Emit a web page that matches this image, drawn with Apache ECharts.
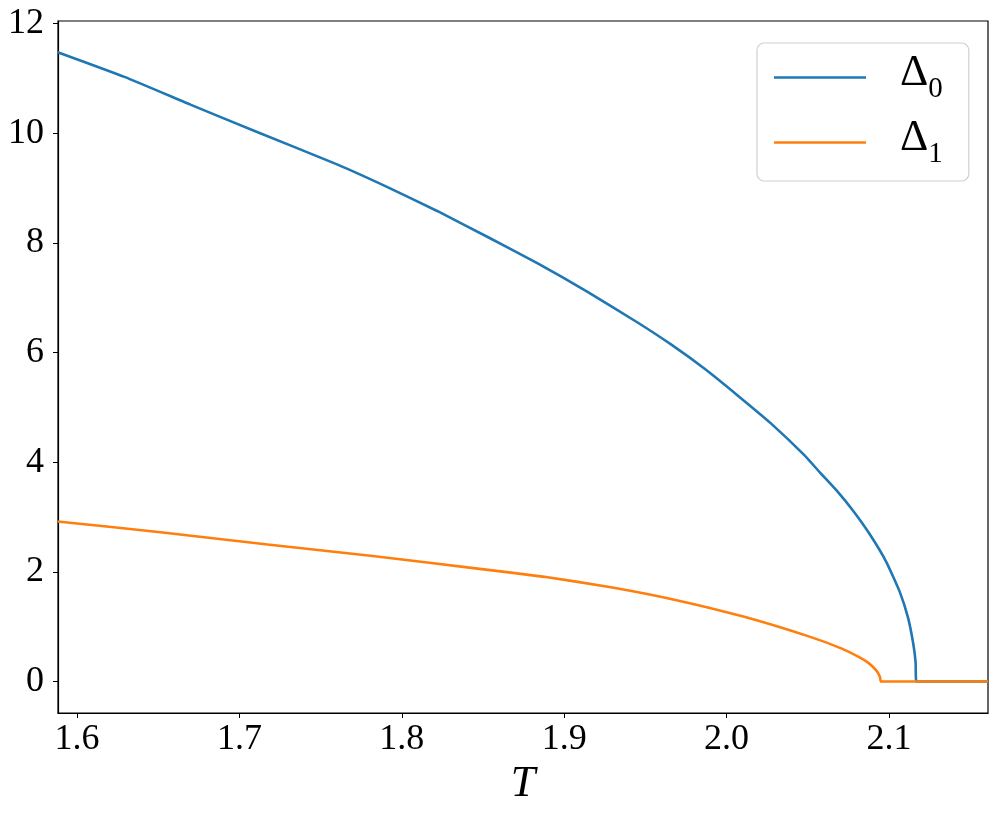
<!DOCTYPE html>
<html>
<head>
<meta charset="utf-8">
<script src="https://cdn.jsdelivr.net/npm/echarts@6/dist/echarts.min.js"></script>
<style>
html,body{margin:0;padding:0;background:#fff;}
#chart{width:997px;height:815px;}
</style>
</head>
<body>
<div id="chart"></div>
<script>
// Delta_0 curve (T, value)
const delta0T = [1.5881, 1.6292, 1.6702, 1.7113, 1.7605, 1.7912, 1.8221, 1.8529, 1.8837, 1.9144, 1.9452, 1.9658, 1.9863, 2.0068, 2.0273, 2.0479, 2.0573, 2.0676, 2.0778, 2.0881, 2.0984, 2.1066, 2.1117, 2.1148, 2.1164, 2.1169, 2.1610];
const delta0V = [11.48, 11.03, 10.52, 10.02, 9.43, 9.02, 8.58, 8.11, 7.63, 7.11, 6.55, 6.15, 5.71, 5.22, 4.71, 4.13, 3.82, 3.49, 3.12, 2.69, 2.18, 1.64, 1.17, 0.72, 0.36, 0.00, 0.00];
// Delta_1 curve (T, value)
const delta1T = [1.5881, 1.6528, 1.7174, 1.7821, 1.8467, 1.8878, 1.9288, 1.9699, 2.0109, 2.0520, 2.0710, 2.0819, 2.0869, 2.0901, 2.0930, 2.0945, 2.0951, 2.1610];
const delta1V = [2.92, 2.72, 2.50, 2.29, 2.06, 1.91, 1.72, 1.48, 1.18, 0.81, 0.60, 0.44, 0.35, 0.27, 0.17, 0.08, 0.00, 0.00];
const seriesNames = ['Δ0', 'Δ1'];
const xTicks = [1.6, 1.7, 1.8, 1.9, 2.0, 2.1];
const yTicks = [0, 2, 4, 6, 8, 10, 12];

const zip = (a, b) => a.map((v, i) => [v, b[i]]);
const chart = echarts.init(document.getElementById('chart'));
const font = '"Liberation Serif", "DejaVu Serif", serif';
chart.setOption({
  animation: false,
  backgroundColor: '#ffffff',
  grid: {left: 58, right: 9, top: 21, bottom: 102, containLabel: false, outerBoundsMode: 'none',
         show: true, borderColor: '#000', borderWidth: 1.2, backgroundColor: 'transparent'},
  xAxis: {
    type: 'value', min: 1.5883, max: 2.161,
    name: 'T', nameLocation: 'middle', nameGap: 46,
    nameTextStyle: {fontFamily: font, fontStyle: 'italic', fontSize: 44, color: '#000'},
    axisLine: {show: true, onZero: false, lineStyle: {color: '#000', width: 1.2}},
    axisTick: {show: true, length: 5, lineStyle: {color: '#000', width: 1}, customValues: xTicks},
    axisLabel: {fontFamily: font, fontSize: 36, color: '#000', margin: 9, customValues: xTicks,
      formatter: v => v.toFixed(1)},
    splitLine: {show: false}
  },
  yAxis: {
    type: 'value', min: -0.574, max: 12.05,
    axisLine: {show: true, onZero: false, lineStyle: {color: '#000', width: 1.2}},
    axisTick: {show: true, length: 5, lineStyle: {color: '#000', width: 1}, customValues: yTicks},
    axisLabel: {fontFamily: font, fontSize: 36, color: '#000', margin: 14, customValues: yTicks,
      formatter: v => String(Math.round(v))},
    splitLine: {show: false}
  },
  legend: {
    orient: 'vertical', left: 757, top: 43,
    padding: [8, 26, 12, 17], itemGap: 12,
    itemWidth: 92, itemHeight: 2.6, icon: 'rect',
    backgroundColor: '#fff', borderColor: '#d0d0d0', borderWidth: 1.2, borderRadius: 7,
    formatter: name => '{d|Δ}{s|' + name.slice(1) + '}',
    textStyle: {
      rich: {
        d: {fontFamily: font, fontSize: 44, color: '#000', padding: [0, 0, 9, 29], verticalAlign: 'bottom'},
        s: {fontFamily: font, fontSize: 29, color: '#000', verticalAlign: 'bottom'}
      }
    },
    data: seriesNames
  },
  series: [
    {name: seriesNames[0], type: 'line', data: zip(delta0T, delta0V), symbol: 'none', smooth: 0.15,
     lineStyle: {color: '#1f77b4', width: 2.6}, itemStyle: {color: '#1f77b4'}},
    {name: seriesNames[1], type: 'line', data: zip(delta1T, delta1V), symbol: 'none', smooth: 0.15,
     lineStyle: {color: '#ff7f0e', width: 2.6}, itemStyle: {color: '#ff7f0e'}}
  ]
});
</script>
</body>
</html>
